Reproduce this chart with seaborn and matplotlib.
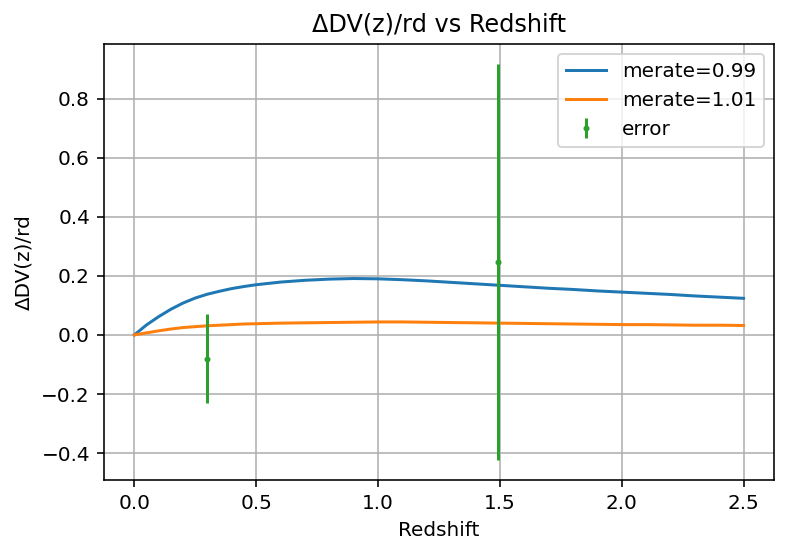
import numpy as np
import pandas as pd
import matplotlib.pyplot as plt
import seaborn as sns

# values
z = [0.0, 0.05, 0.1, 0.15, 0.2, 0.25, 0.3, 0.35, 0.4, 0.45, 0.5, 0.6, 0.7, 0.8, 0.9, 1.0,
     1.1, 1.2, 1.3, 1.4, 1.5, 1.6, 1.7, 1.8, 1.9, 2.0, 2.1, 2.2, 2.3, 2.4, 2.5]
dv_099 = [0.0, 0.034, 0.062, 0.087, 0.108, 0.125, 0.138, 0.148, 0.157, 0.164, 0.170,
          0.179, 0.185, 0.189, 0.191, 0.190, 0.187, 0.183, 0.178, 0.173, 0.168, 0.163,
          0.158, 0.154, 0.149, 0.145, 0.141, 0.137, 0.132, 0.128, 0.124]
dv_101 = [0.0, 0.007, 0.014, 0.020, 0.025, 0.028, 0.031, 0.033, 0.035, 0.037, 0.038,
          0.040, 0.041, 0.042, 0.043, 0.044, 0.044, 0.043, 0.042, 0.041, 0.040, 0.039,
          0.038, 0.037, 0.036, 0.035, 0.035, 0.034, 0.033, 0.033, 0.032]

z_obs = [0.3, 1.491]
dv_obs = [-0.080, 0.247]
dv_err = [0.150, 0.671]

df = pd.DataFrame({"z": z, "merate=0.99": dv_099, "merate=1.01": dv_101})
long = df.melt(id_vars="z", var_name="model", value_name="dv")

fig = plt.figure(figsize=(787 / 144, 554 / 144), dpi=144)
ax = fig.add_axes([0.132, 0.1336, 0.8515, 0.787])

sns.lineplot(data=long, x="z", y="dv", hue="model", palette=["tab:blue", "tab:orange"],
             estimator=None, sort=False, linewidth=1.5, ax=ax)
ax.errorbar(z_obs, dv_obs, yerr=dv_err, fmt=".", color="tab:green", markersize=4,
            label="error")

ax.set_title("ΔDV(z)/rd vs Redshift")
ax.set_xlabel("Redshift")
ax.set_ylabel("ΔDV(z)/rd")
ax.grid(True)
ax.legend(loc="upper right")

fig.savefig("out.png", dpi=144)
